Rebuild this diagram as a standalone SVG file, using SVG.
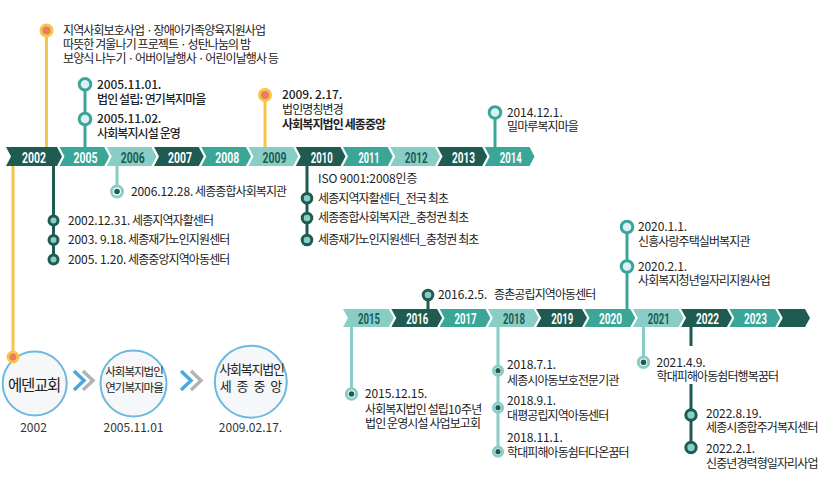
<svg xmlns="http://www.w3.org/2000/svg" xmlns:xlink="http://www.w3.org/1999/xlink" width="820" height="498" viewBox="0 0 820 498">
<style>
.dk{fill:#1f5b51}.md{fill:#3aa698}.lt{fill:#88cdc6}
.y{font-family:Roboto,"Liberation Sans",sans-serif;font-weight:700;font-size:15px;text-anchor:middle;fill:#fff}
.y.dt{fill:#1f5b51}
.t{font-family:"Noto Sans CJK KR","Noto Sans",sans-serif;font-size:12px;fill:#222;letter-spacing:-0.9px}
.n{letter-spacing:-0.1px}
.m{font-weight:500}.b{font-weight:700}
.ly{stroke:#f7c548;stroke-width:3;fill:none}
.lt2{stroke:#3aa698;stroke-width:3;fill:none}
.ld{stroke:#1f5b51;stroke-width:3;fill:none}
.ll{stroke:#88cdc6;stroke-width:3;fill:none}
.cy{fill:#ec7b5f;stroke:#f7c548;stroke-width:3}
.ct{fill:#dcf0f6;stroke:#3aa698;stroke-width:3}
.cd{fill:#88cdc6;stroke:#1f5b51;stroke-width:3}
.cl{fill:#fff;stroke:#88cdc6;stroke-width:3}
.dot{fill:#1f5b51}
.bc{fill:#f5f7f8;stroke:#6bb9e0;stroke-width:2}
.bt{font-family:"Noto Sans CJK KR",sans-serif;fill:#222;text-anchor:middle}
.lab{font-family:"Noto Sans CJK KR","Noto Sans",sans-serif;font-size:12px;fill:#333;text-anchor:middle}
.ab{stroke:#4aa9dc;stroke-width:3.5;fill:none}
.ag{stroke:#b3b3b3;stroke-width:3.5;fill:none}
</style>
<defs>
<path id="segT" d="M0 0 H44.75 L49.75 9.5 L44.75 19 H0 L5 9.5 Z"/>
<path id="segB" d="M0 0 H45.8 L50.8 9 L45.8 18 H0 L5 9 Z"/>
</defs>

<g id="connectors">
<line class="ly" x1="46.5" y1="31" x2="46.5" y2="147"/>
<line class="ly" x1="13" y1="166" x2="13" y2="357"/>
<line class="lt2" x1="85" y1="84" x2="85" y2="147"/>
<line class="ly" x1="265" y1="95" x2="265" y2="147"/>
<line class="lt2" x1="495" y1="112.5" x2="495" y2="147"/>
<line class="ld" x1="53.5" y1="166" x2="53.5" y2="259.5"/>
<line class="ll" x1="117" y1="166" x2="117" y2="191.5"/>
<line class="ld" x1="307" y1="166" x2="307" y2="240"/>
<line class="ld" x1="428" y1="295" x2="428" y2="309"/>
<line class="lt2" x1="627" y1="227" x2="627" y2="309"/>
<line class="ll" x1="351.5" y1="327" x2="351.5" y2="394"/>
<line class="ll" x1="498" y1="327" x2="498" y2="452"/>
<line class="ll" x1="643.5" y1="327" x2="643.5" y2="362"/>
<line class="ld" x1="691" y1="327" x2="691" y2="346"/>
<line class="ld" x1="691" y1="384" x2="691" y2="447"/>
</g>

<g id="timeline-top">
<path class="dk" d="M6 147 H57 L62 156.5 L57 166 H6 L11 156.5 Z"/>
<text class="y" x="34" y="162.5" textLength="24" lengthAdjust="spacingAndGlyphs">2002</text>
<use xlink:href="#segT" x="59.5" y="147" class="md"/><text class="y" x="85.5" y="162.5" textLength="24" lengthAdjust="spacingAndGlyphs">2005</text>
<use xlink:href="#segT" x="106.75" y="147" class="lt"/><text class="y dt" x="132.75" y="162.5" textLength="24" lengthAdjust="spacingAndGlyphs">2006</text>
<use xlink:href="#segT" x="154" y="147" class="dk"/><text class="y" x="180" y="162.5" textLength="24" lengthAdjust="spacingAndGlyphs">2007</text>
<use xlink:href="#segT" x="201.25" y="147" class="md"/><text class="y" x="227.25" y="162.5" textLength="24" lengthAdjust="spacingAndGlyphs">2008</text>
<use xlink:href="#segT" x="248.5" y="147" class="lt"/><text class="y dt" x="274.5" y="162.5" textLength="24" lengthAdjust="spacingAndGlyphs">2009</text>
<use xlink:href="#segT" x="295.75" y="147" class="dk"/><text class="y" x="321.75" y="162.5" textLength="22" lengthAdjust="spacingAndGlyphs">2010</text>
<use xlink:href="#segT" x="343" y="147" class="md"/><text class="y" x="369" y="162.5" textLength="21" lengthAdjust="spacingAndGlyphs">2011</text>
<use xlink:href="#segT" x="390.25" y="147" class="lt"/><text class="y dt" x="416.25" y="162.5" textLength="23" lengthAdjust="spacingAndGlyphs">2012</text>
<use xlink:href="#segT" x="437.5" y="147" class="dk"/><text class="y" x="463.5" y="162.5" textLength="23" lengthAdjust="spacingAndGlyphs">2013</text>
<use xlink:href="#segT" x="484.75" y="147" class="md"/><text class="y" x="510.75" y="162.5" textLength="22" lengthAdjust="spacingAndGlyphs">2014</text>
</g>

<g id="timeline-bottom">
<use xlink:href="#segB" x="343" y="309" class="lt"/><text class="y dt" x="369" y="323.5" textLength="22" lengthAdjust="spacingAndGlyphs">2015</text>
<use xlink:href="#segB" x="391.3" y="309" class="dk"/><text class="y" x="417.3" y="323.5" textLength="22" lengthAdjust="spacingAndGlyphs">2016</text>
<use xlink:href="#segB" x="439.6" y="309" class="md"/><text class="y" x="465.6" y="323.5" textLength="22" lengthAdjust="spacingAndGlyphs">2017</text>
<use xlink:href="#segB" x="487.9" y="309" class="lt"/><text class="y dt" x="513.9" y="323.5" textLength="22" lengthAdjust="spacingAndGlyphs">2018</text>
<use xlink:href="#segB" x="536.2" y="309" class="dk"/><text class="y" x="562.2" y="323.5" textLength="22" lengthAdjust="spacingAndGlyphs">2019</text>
<use xlink:href="#segB" x="584.5" y="309" class="md"/><text class="y" x="610.5" y="323.5" textLength="23" lengthAdjust="spacingAndGlyphs">2020</text>
<use xlink:href="#segB" x="632.8" y="309" class="lt"/><text class="y dt" x="658.8" y="323.5" textLength="22" lengthAdjust="spacingAndGlyphs">2021</text>
<use xlink:href="#segB" x="681.1" y="309" class="dk"/><text class="y" x="707.5" y="323.5" textLength="23" lengthAdjust="spacingAndGlyphs">2022</text>
<use xlink:href="#segB" x="729.4" y="309" class="md"/><text class="y" x="755.5" y="323.5" textLength="23" lengthAdjust="spacingAndGlyphs">2023</text>
<path class="dk" d="M777.7 309 H805 L810 318 L805 327 H777.7 L782.7 318 Z"/>
</g>

<g id="ev-2002-top">
<circle class="cy" cx="46.5" cy="30.5" r="5.5"/>
<text class="t" x="63" y="35">지역사회보호사업 · 장애아가족양육지원사업</text>
<text class="t" x="63" y="49">따뜻한 겨울나기 프로젝트 · 성탄나눔의 밤</text>
<text class="t" x="63" y="63">보양식 나누기 · 어버이날행사 · 어린이날행사 등</text>
</g>

<g id="ev-2005-top">
<circle class="ct" cx="85" cy="84.3" r="5.8"/>
<circle class="ct" cx="85" cy="119" r="5.8"/>
<text class="t m" x="97" y="88.5"><tspan class="n">2005.11.01.</tspan></text>
<text class="t m" x="97" y="103.5">법인 설립<tspan class="n">:</tspan> 연기복지마을</text>
<text class="t m" x="97" y="123"><tspan class="n">2005.11.02.</tspan></text>
<text class="t m" x="97" y="138">사회복지시설 운영</text>
</g>

<g id="ev-2009-top">
<circle class="cy" cx="265" cy="95" r="5.5"/>
<text class="t m" x="282" y="99"><tspan class="n">2009. 2.17.</tspan></text>
<text class="t" x="282" y="113.5">법인명칭변경</text>
<text class="t b" x="282" y="128.5">사회복지법인 세종중앙</text>
</g>

<g id="ev-2014-top">
<circle class="ct" cx="495" cy="112.5" r="5.8"/>
<text class="t" x="507" y="116.5"><tspan class="n">2014.12.1.</tspan></text>
<text class="t" x="507" y="131">밀마루복지마을</text>
</g>

<g id="ev-2002-bottom">
<circle class="cd" cx="53.5" cy="220.5" r="4.5"/>
<circle class="cd" cx="53.5" cy="240" r="4.5"/>
<circle class="cd" cx="53.5" cy="259.5" r="4.5"/>
<text class="t" x="68" y="224.5"><tspan class="n">2002.12.31.</tspan> 세종지역자활센터</text>
<text class="t" x="68" y="244"><tspan class="n">2003. 9.18.</tspan> 세종재가노인지원센터</text>
<text class="t" x="68" y="263.5"><tspan class="n">2005. 1.20.</tspan> 세종중앙지역아동센터</text>
</g>

<g id="ev-2006">
<circle class="cl" cx="117" cy="191.5" r="5.5"/>
<circle class="dot" cx="117" cy="191.5" r="2.8"/>
<text class="t" x="131" y="196"><tspan class="n">2006.12.28.</tspan> 세종종합사회복지관</text>
</g>

<g id="ev-2010">
<text class="t n" x="318" y="182.5">ISO 9001:2008인증</text>
<circle class="cd" cx="307" cy="198.3" r="4.8"/>
<circle class="cd" cx="307" cy="218" r="4.8"/>
<circle class="cd" cx="307" cy="240" r="4.8"/>
<text class="t" x="318" y="202.5">세종지역자활센터<tspan class="n">_</tspan>전국 최초</text>
<text class="t" x="318" y="222">세종종합사회복지관<tspan class="n">_</tspan>충청권 최초</text>
<text class="t" x="318" y="244">세종재가노인지원센터<tspan class="n">_</tspan>충청권 최초</text>
</g>

<g id="ev-2016">
<circle class="cd" cx="428" cy="295" r="4.8"/>
<text class="t" x="438" y="299"><tspan class="n">2016.2.5.</tspan><tspan dx="7">종촌공립지역아동센터</tspan></text>
</g>

<g id="ev-2020">
<circle class="ct" cx="627" cy="227" r="5.8"/>
<circle class="ct" cx="627" cy="266.5" r="5.8"/>
<text class="t" x="638" y="231"><tspan class="n">2020.1.1.</tspan></text>
<text class="t" x="638" y="246">신흥사랑주택실버복지관</text>
<text class="t" x="638" y="270.5"><tspan class="n">2020.2.1.</tspan></text>
<text class="t" x="638" y="285">사회복지청년일자리지원사업</text>
</g>

<g id="ev-2015">
<circle class="cl" cx="351.5" cy="394" r="5.2"/>
<circle class="dot" cx="351.5" cy="394" r="2.8"/>
<text class="t" x="365" y="397.5"><tspan class="n">2015.12.15.</tspan></text>
<text class="t" x="365" y="414">사회복지법인 설립<tspan class="n">10</tspan>주년</text>
<text class="t" x="365" y="428">법인 운영시설 사업보고회</text>
</g>

<g id="ev-2018">
<circle class="cl" cx="498" cy="370.7" r="4.6"/>
<circle class="dot" cx="498" cy="370.7" r="2.6"/>
<circle class="cl" cx="498" cy="407.7" r="4.6"/>
<circle class="dot" cx="498" cy="407.7" r="2.6"/>
<circle class="cl" cx="498" cy="451.7" r="4.6"/>
<circle class="dot" cx="498" cy="451.7" r="2.6"/>
<text class="t" x="507" y="369"><tspan class="n">2018.7.1.</tspan></text>
<text class="t" x="507" y="385">세종시아동보호전문기관</text>
<text class="t" x="507" y="405"><tspan class="n">2018.9.1.</tspan></text>
<text class="t" x="507" y="420">대평공립지역아동센터</text>
<text class="t" x="507" y="441.5"><tspan class="n">2018.11.1.</tspan></text>
<text class="t" x="507" y="456.5">학대피해아동쉼터다온꿈터</text>
</g>

<g id="ev-2021">
<circle class="cl" cx="643.5" cy="362.3" r="5.2"/>
<circle class="dot" cx="643.5" cy="362.3" r="2.8"/>
<text class="t" x="656.5" y="366.5"><tspan class="n">2021.4.9.</tspan></text>
<text class="t" x="656.5" y="381">학대피해아동쉼터행복꿈터</text>
</g>

<g id="ev-2022">
<circle class="cd" cx="691" cy="415" r="5.2"/>
<circle class="cd" cx="691" cy="447.5" r="5.2"/>
<text class="t" x="706" y="417.5"><tspan class="n">2022.8.19.</tspan></text>
<text class="t" x="706" y="431.5">세종시종합주거복지센터</text>
<text class="t" x="706" y="452.5"><tspan class="n">2022.2.1.</tspan></text>
<text class="t" x="706" y="467.5">신중년경력형일자리사업</text>
</g>

<g id="node-eden">
<circle class="bc" cx="34.7" cy="383.5" r="32"/>
<circle class="cy" cx="13" cy="357" r="5"/>
<text class="bt" x="34" y="390.5" style="font-size:15.5px;letter-spacing:-1.3px">에덴교회</text>
<text class="lab" x="33.5" y="431.5">2002</text>
</g>

<g id="node-yeongi">
<circle class="bc" cx="133.5" cy="383.5" r="33"/>
<text class="bt" x="134" y="375.5" style="font-size:11.5px;letter-spacing:-1px">사회복지법인</text>
<text class="bt" x="134" y="392" style="font-size:11.5px;letter-spacing:-1px">연기복지마을</text>
<text class="lab" x="133.5" y="431.5">2005.11.01</text>
</g>

<g id="node-sejong">
<circle class="bc" cx="250.8" cy="381.7" r="36"/>
<text class="bt" x="251.5" y="373.5" style="font-size:13px;letter-spacing:-1.2px">사회복지법인</text>
<text class="bt" x="251.5" y="391" style="font-size:13px;letter-spacing:1px">세 종 중 앙</text>
<text class="lab" x="250.5" y="431.5">2009.02.17.</text>
</g>

<g id="arrows">
<polyline class="ab" points="74,371 84,380.5 74,390"/>
<polyline class="ag" points="83,371 93,380.5 83,390"/>
<polyline class="ab" points="181,371 191,380.5 181,390"/>
<polyline class="ag" points="191,371 201,380.5 191,390"/>
</g>
</svg>
